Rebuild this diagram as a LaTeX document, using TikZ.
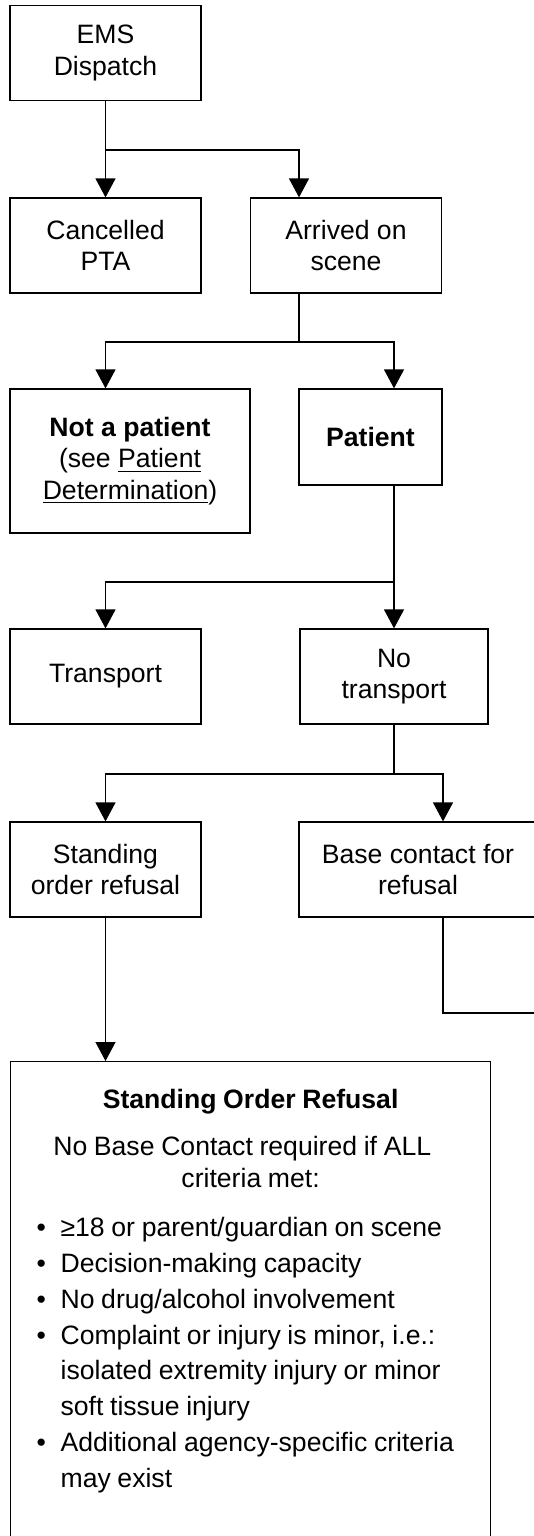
\documentclass[tikz,border=0pt]{standalone}
\usepackage{fontspec}
\setmainfont{Liberation Sans}
\usetikzlibrary{arrows.meta}

\newcommand{\critem}{\hangindent=12pt\hangafter=1\noindent\makebox[12pt][l]{\textbullet}}

\begin{document}
\begin{tikzpicture}[x=.5pt,y=-.5pt,line width=.6pt,
        box/.style={draw,align=center,minimum width=95.5pt,minimum height=47.5pt,inner sep=1pt,
          font=\fontsize{13.3}{15.8}\selectfont},
        link/.style={-{Triangle[width=10pt,length=9.5pt]}}]
        \useasboundingbox (0,0) rectangle (534,1536);
        \clip (0,0) rectangle (534,1536);
        \pgfmathsetmacro{\xl}{105.5}
        \pgfmathsetmacro{\xm}{299}
        \pgfmathsetmacro{\xr}{394}
        \pgfmathsetmacro{\xs}{443}

        \node[box] (E) at (\xl,53) {EMS\\Dispatch};
        \node[box] (X) at (\xl,245.5) {Cancelled\\PTA};
        \node[box] (A) at (346,245.5) {Arrived on\\scene};

        \node[box,minimum width=120pt,minimum height=72pt] (N) at (130,461)
          {\textbf{Not a patient}\\(see \underline{Patient}\\\underline{Determination})};
        \node[box,minimum width=71.5pt,minimum height=48pt] (P) at (370.5,437) {\textbf{Patient}};

        \node[box] (T) at (\xl,676.5) {Transport};
        \node[box,minimum width=94pt] (NT) at (\xr,676.5) {No\\transport};

        \node[box] (S) at (\xl,869.5) {Standing\\order refusal};
        \node[box,minimum width=119pt] (B) at (418,869.5) {Base contact for\\refusal};

        \node[draw,anchor=north west,text width=214pt,inner xsep=13pt,inner ysep=0pt] (R) at (10,1061)
          {\fontsize{13.3}{15.8}\selectfont\parindent=0pt
           \centering\rule{0pt}{23.5pt}\textbf{Standing Order Refusal}\par
           \vspace{7.5pt}\baselineskip=16pt
           No Base Contact required if ALL\newline criteria met:\par
           \raggedright\baselineskip=17.9pt\vspace{6.6pt}
           \critem ≥18 or parent/guardian on scene\par
           \critem Decision-making capacity\par
           \critem No drug/alcohol involvement\par
           \critem Complaint or injury is minor, i.e.:\newline isolated extremity injury or minor\newline soft tissue injury\par
           \critem Additional agency-specific criteria\newline may exist\rule[-60pt]{0pt}{0pt}\par};

        \coordinate (J1) at (\xm,150);
        \coordinate (J2) at (\xm,342);
        \coordinate (J3) at (\xr,582);
        \coordinate (J4) at (\xr,774);
        \coordinate (J5) at (\xs,1013);
        \coordinate (Out) at (540,1013);

        \draw[link] (E) -- (X);
        \draw[link] (E.south) |- (J1) -- (J1 |- A.north);
        \draw (J1 |- A.south) -- (J2);
        \draw[link] (J2) -| (X |- N.north);
        \draw[link] (J2) -| (J3 |- P.north);
        \draw (J3 |- P.south) -- (J3);
        \draw[link] (J3) -| (X |- T.north);
        \draw[link] (J3) -- (J3 |- NT.north);
        \draw (J3 |- NT.south) -- (J4);
        \draw[link] (J4) -| (X |- S.north);
        \draw[link] (J4) -| (J5 |- B.north);
        \draw (J5 |- B.south) -- (J5) -- (Out);
        \draw[link] (S) -- (S |- R.north);
      \end{tikzpicture}
\end{document}
